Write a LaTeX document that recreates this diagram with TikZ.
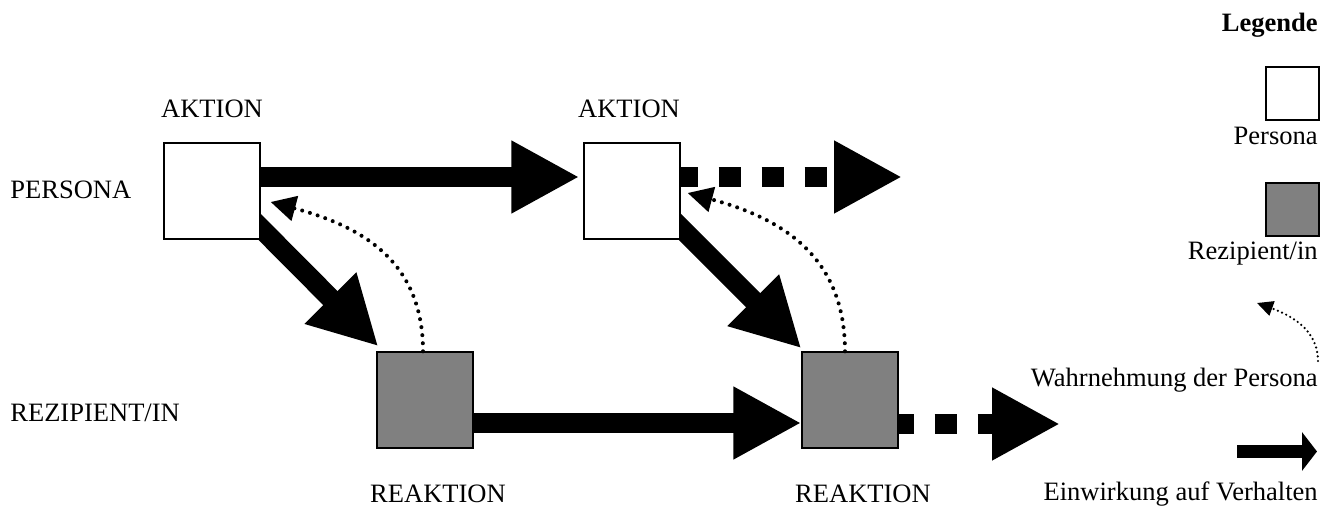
\documentclass[tikz,border=0pt]{standalone}
\usepackage{fontspec}
\setmainfont{Liberation Serif}
\usetikzlibrary{arrows.meta, calc, positioning}
\pgfdeclarelayer{background}
\pgfsetlayers{background,main}

\tikzset{
  persona/.style={draw, line width=0.8pt, fill=white, minimum size=1.92cm, inner sep=0pt},
  rezipient/.style={persona, fill=gray},
  einwirkung/.style={line width=0.4cm, -{Triangle[length=1.36cm, width=1.36cm]}},
  fortsetzung/.style={einwirkung, dash pattern=on 0.44cm off 0.42cm},
  wahrnehmung/.style={line width=2.3pt, line cap=round, dash pattern=on 0pt off 4.6pt,
    -{Triangle[length=0.5cm, width=0.5cm]}},
  txt/.style={font=\fontsize{15.1}{18}\selectfont, inner sep=0pt, anchor=base}
}

\begin{document}
\begin{tikzpicture}[x=0.02cm, y=0.02cm]
  \useasboundingbox (0,0) rectangle (1330,-506);

  % boxes
  \node[persona]   (A1) at (212,-191) {};
  \node[persona]   (A2) at (632,-191) {};
  \node[rezipient] (R1) at (425,-400) {};
  \node[rezipient] (R2) at (850,-400) {};
  \coordinate (A3) at (902,-177);
  \coordinate (R3) at (1060,-424);

  % row and column labels
  \node[txt] (lA1) at ($(A1.north)+(0,25)$) {AKTION};
  \node[txt] (lA2) at ($(A2.north)+(-3,25)$) {AKTION};
  \node[txt] (lR1) at ($(R1.south)+(13,-54)$) {REAKTION};
  \node[txt] (lR2) at ($(R2.south)+(13,-54)$) {REAKTION};
  \node[txt, anchor=base west] (lP) at (10,-199) {PERSONA};
  \node[txt, anchor=base west] (lR) at (10,-422) {REZIPIENT/IN};

  % einwirkung
  \begin{pgfonlayer}{background}
    \draw[einwirkung] ($(A1.east)+(0,14)$) -- ($(A2.west)+(-4,14)$);
    \draw[einwirkung] ($(A1.center)+(0,12)$) -- ($(R1.north west)+(2,5)$);
    \draw[einwirkung] ($(A2.center)+(0,12)$) -- ($(R2.north west)+(0,3)$);
    \draw[einwirkung] ($(R1.east)+(0,-23)$) -- ($(R2.west)+(0,-23)$);
  \end{pgfonlayer}
  \draw[fortsetzung, dash phase=0.1cm] ($(A2.east)+(0,14)$) -- (A3);
  \draw[fortsetzung, dash phase=0.14cm] ($(R2.east)+(0,-24)$) -- (R3);

  % wahrnehmung
  \draw[wahrnehmung] ($(R1.north)+(-2,0)$) to[out=90, in=-15, looseness=1.1] ($(A1.east)+(10,-11)$);
  \draw[wahrnehmung] ($(R2.north)+(-5,0)$) to[out=90, in=-15, looseness=1.1] ($(A2.east)+(7,-2)$);

  % legende
  \node[txt, anchor=base east, font=\fontsize{15.1}{18}\selectfont\bfseries] (leg) at (1318,-32) {Legende};
  \node[persona, minimum size=1.06cm]   (LP) at (1292.5,-93.5) {};
  \node[txt, anchor=base east] (lLP) at (1318,-145) {Persona};
  \node[rezipient, minimum size=1.06cm] (LR) at (1292.5,-209.5) {};
  \node[txt, anchor=base east] (lLR) at (1318,-260) {Rezipient/in};
  \coordinate (W1) at (1318,-361);
  \coordinate (W2) at (1257,-303);
  \draw[line width=1.4pt, line cap=round, dash pattern=on 0pt off 2.6pt,
    -{Triangle[length=0.32cm, width=0.3cm]}] (W1) to[out=90, in=-20] (W2);
  \node[txt, anchor=base east] (lW) at (1318,-387) {Wahrnehmung der Persona};
  \coordinate (E1) at (1237,-451.5);
  \coordinate (E2) at (1317,-451.5);
  \draw[line width=0.26cm, -{Triangle[length=0.3cm, width=0.76cm]}] (E1) -- (E2);
  \node[txt, anchor=base east] (lE) at (1318,-501) {Einwirkung auf Verhalten};
\end{tikzpicture}
\end{document}
